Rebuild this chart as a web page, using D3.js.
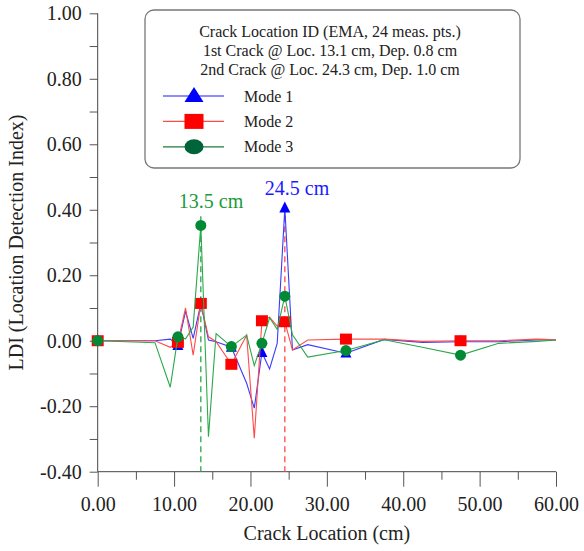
<!DOCTYPE html>
<html>
<head>
<meta charset="utf-8">
<script src="https://cdn.jsdelivr.net/npm/d3@7"></script>
<style>
  body { margin: 0; background: #fff; }
  svg { display: block; font-family: 'Liberation Serif', 'Times New Roman', serif; }
  .axis path, .axis line { stroke: #555; }
  .axis text { font-size: 20px; fill: #222; font-family: 'Liberation Serif', serif; }
</style>
</head>
<body>
<div id="chart"></div>
<script>
// measurement locations (cm)
var locations = [0, 7.5, 9.5, 10.5, 11.5, 12.5, 13.5, 14.5, 15.5, 17.5, 19.5, 20.5,
                 21.5, 22.5, 23.5, 24.5, 25.5, 27.5, 32.5, 37.5, 42.5, 47.5, 52.5, 57.5, 60];

var mode1 = [0, 0, 0.005, -0.015, 0.09, 0.007, 0.113, 0.002, -0.003, -0.02, -0.13, -0.206,
             -0.036, -0.086, -0.008, 0.405, -0.028, -0.012, -0.038, 0.004, -0.005, -0.003, -0.003, 0.002, 0.002];
var mode2 = [0, 0, -0.02, -0.005, 0.10, -0.044, 0.114, 0.012, -0.003, -0.072, 0.017, -0.298,
             0.061, 0.072, 0.045, 0.058, -0.028, 0.002, 0.005, 0.005, -0.002, 0.0, 0.0, 0.005, 0.003];
var mode3 = [0, -0.006, -0.142, 0.012, 0.006, 0.042, 0.352, -0.293, 0.022, -0.018, 0.017, -0.076,
             -0.008, 0.07, 0.035, 0.136, 0.018, -0.05, -0.03, 0.003, -0.02, -0.044, -0.008, -0.002, 0.002];

// locations that carry a marker
var markerLocs = [0, 10.5, 13.5, 17.5, 21.5, 24.5, 32.5, 47.5];

var seriesNames = ['Mode 1', 'Mode 2', 'Mode 3'];
var titleLines = ['Crack Location ID (EMA, 24 meas. pts.)',
                  '1st Crack @ Loc. 13.1 cm, Dep. 0.8 cm',
                  '2nd Crack @ Loc. 24.3 cm, Dep. 1.0 cm'];

// identified crack locations
var peakLocs = [13.5, 24.5];
var peakLabels = ['13.5 cm', '24.5 cm'];

var xTicks = [0, 10, 20, 30, 40, 50, 60];
var yTicks = [-0.4, -0.2, 0, 0.2, 0.4, 0.6, 0.8, 1.0];

var W = 584, H = 551;
var margin = {top: 13.3, right: 28, bottom: 79.3, left: 97.7};

var svg = d3.select('#chart').append('svg')
    .attr('width', W).attr('height', H);

var x = d3.scaleLinear().domain([0, 60]).range([margin.left, W - margin.right]);
var y = d3.scaleLinear().domain([-0.4, 1.0]).range([H - margin.bottom, margin.top]);

// plain hyphen for negative labels, like the original
var fmt = function(v){ return d3.format('.2f')(v).replace('\u2212', '-'); };

var styles = [
    {line: '#3a3aff', mark: '#0000ff', shape: 'tri'},
    {line: '#ff4a4a', mark: '#ff0000', shape: 'sq'},
    {line: '#2aa84a', mark: '#008a36', shape: 'circ'}
];
var allData = [mode1, mode2, mode3];

// axes
var xAxis = svg.append('g').attr('class', 'axis')
    .attr('transform', 'translate(0,' + y(-0.4) + ')')
    .call(d3.axisBottom(x).tickValues(xTicks).tickSize(15).tickPadding(10)
        .tickFormat(fmt));
xAxis.select('.domain').remove();
svg.append('g').attr('class', 'axis')
    .attr('transform', 'translate(0,' + y(-0.4) + ')')
    .call(d3.axisBottom(x).tickValues(d3.range(5, 60, 10)).tickSize(8).tickFormat(''))
    .select('.domain').remove();
svg.append('line')
    .attr('x1', x(0)).attr('x2', x(60))
    .attr('y1', y(-0.4)).attr('y2', y(-0.4))
    .attr('stroke', '#444');

var yAxis = svg.append('g').attr('class', 'axis')
    .attr('transform', 'translate(' + x(0) + ',0)')
    .call(d3.axisLeft(y).tickValues(yTicks).tickSize(8).tickPadding(8)
        .tickFormat(fmt));
yAxis.select('.domain').remove();
svg.append('g').attr('class', 'axis')
    .attr('transform', 'translate(' + x(0) + ',0)')
    .call(d3.axisLeft(y).tickValues(d3.range(-0.3, 1.0, 0.2)).tickSize(8).tickFormat(''))
    .select('.domain').remove();
svg.append('line')
    .attr('x1', x(0)).attr('x2', x(0))
    .attr('y1', y(1.0)).attr('y2', y(-0.4))
    .attr('stroke', '#444');

// axis titles
svg.append('text')
    .attr('x', x(30)).attr('y', 540)
    .attr('text-anchor', 'middle')
    .style('font-size', '20px').style('fill', '#222')
    .text('Crack Location (cm)');
svg.append('text')
    .attr('transform', 'translate(23,' + y(0.3) + ') rotate(-90)')
    .attr('text-anchor', 'middle')
    .style('font-size', '20px').style('fill', '#222')
    .text('LDI (Location Detection Index)');

// dashed crack lines
var dashColors = ['#2aa84a', '#ff4a4a'];
peakLocs.forEach(function(p, i){
    svg.append('line')
        .attr('x1', x(p)).attr('x2', x(p))
        .attr('y1', y(0.38)).attr('y2', y(-0.4))
        .attr('stroke', dashColors[i])
        .attr('stroke-width', 1.3)
        .attr('stroke-dasharray', '6,4');
});

// symbols
function drawMarker(g, shape, cx, cy, color, w, h) {
    if (shape === 'tri') {
        g.append('path')
            .attr('d', 'M' + cx + ',' + (cy - h * 0.6) + 'L' + (cx + w / 2) + ',' + (cy + h * 0.4) +
                'L' + (cx - w / 2) + ',' + (cy + h * 0.4) + 'Z')
            .attr('fill', color);
    } else if (shape === 'sq') {
        g.append('rect')
            .attr('x', cx - w / 2).attr('y', cy - h / 2)
            .attr('width', w).attr('height', h)
            .attr('fill', color);
    } else {
        g.append('ellipse')
            .attr('cx', cx).attr('cy', cy)
            .attr('rx', w / 2).attr('ry', h / 2)
            .attr('fill', color);
    }
}

var line = d3.line()
    .x(function(d, i){ return x(locations[i]); })
    .y(function(d){ return y(d); });

allData.forEach(function(vals, k){
    var g = svg.append('g');
    g.append('path')
        .attr('d', line(vals))
        .attr('fill', 'none')
        .attr('stroke', styles[k].line)
        .attr('stroke-width', 1.1);
    markerLocs.forEach(function(m){
        var i = locations.indexOf(m);
        var sizes = [[11, 11], [12, 11], [11, 11]][k];
        drawMarker(g, styles[k].shape, x(m), y(vals[i]), styles[k].mark, sizes[0], sizes[1]);
    });
});

// peak labels
var labelColors = ['#1a9a3a', '#1a1aff'];
var labelOffsets = [{dx: -22, v: 0.405}, {dx: -20, v: 0.445}];
peakLocs.forEach(function(p, i){
    svg.append('text')
        .attr('x', x(p) + labelOffsets[i].dx)
        .attr('y', y(labelOffsets[i].v))
        .style('font-size', '20px')
        .style('fill', labelColors[i])
        .text(peakLabels[i]);
});

// legend
var lg = svg.append('g');
lg.append('rect')
    .attr('x', 145).attr('y', 10)
    .attr('width', 375).attr('height', 158)
    .attr('rx', 9).attr('ry', 9)
    .attr('fill', '#fff')
    .attr('stroke', '#777')
    .attr('stroke-width', 1.3);
titleLines.forEach(function(t, i){
    lg.append('text')
        .attr('x', 330).attr('y', 37 + i * 19)
        .attr('text-anchor', 'middle')
        .style('font-size', '16px').style('fill', '#222')
        .text(t);
});
var legendColors = [
    {line: '#1a1aff', mark: '#0000ff'},
    {line: '#ff4a4a', mark: '#ff0000'},
    {line: '#1f7a3c', mark: '#00643a'}
];
seriesNames.forEach(function(name, k){
    var ly = 96 + k * 25.4;
    lg.append('line')
        .attr('x1', 163).attr('x2', 224)
        .attr('y1', ly).attr('y2', ly)
        .attr('stroke', legendColors[k].line)
        .attr('stroke-width', 1.2);
    drawMarker(lg, styles[k].shape, 194, ly, legendColors[k].mark, 19, 15);
    lg.append('text')
        .attr('x', 244).attr('y', ly + 5.5)
        .style('font-size', '16px').style('fill', '#222')
        .text(name);
});
</script>
</body>
</html>
